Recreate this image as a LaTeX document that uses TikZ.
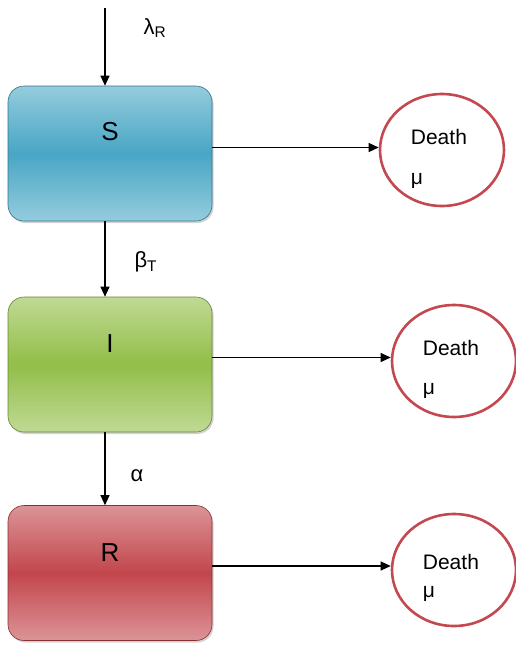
\documentclass[tikz,border=0pt]{standalone}
\usepackage{fontspec}
\setmainfont{Liberation Sans}
\usetikzlibrary{shapes.geometric,arrows.meta,shadows}

\definecolor{sirblue}{RGB}{72,166,197}
\definecolor{sirgreen}{RGB}{146,190,72}
\definecolor{sirred}{RGB}{194,70,76}
\definecolor{deathred}{RGB}{196,72,80}

\begin{document}
\begin{tikzpicture}[
    x=1pt, y=-1pt,
    comp/.style={rounded corners=16pt, minimum width=204pt, minimum height=135pt,
      inner sep=0pt, draw=#1!70!black, line width=0.6pt,
      top color=#1!58!white, bottom color=#1!58!white, middle color=#1,
      drop shadow={shadow xshift=1.5pt, shadow yshift=-2pt, opacity=0.35}},
    letter/.style={font=\fontsize{26}{30}\selectfont},
    rate/.style={font=\fontsize{22}{26}\selectfont, anchor=west},
    death/.style={ellipse, draw=deathred, line width=2.6pt, minimum width=124pt,
      minimum height=112pt},
    deathtxt/.style={anchor=west, align=left, inner sep=0pt,
      font=\fontsize{21}{25}\selectfont},
    flow/.style={-{Triangle[length=10pt,width=9pt]}, line width=1.1pt},
  ]
    \useasboundingbox (0,0) rectangle (516,646);

    % === compartments ===
    \node[comp=sirblue]  (S) at (110,153.5) {};
    \node[comp=sirgreen] (I) at (110,364.5) {};
    \node[comp=sirred]   (R) at (110,573)   {};
    \node[letter] (Slbl) at ([yshift=22pt]S.center) {S};
    \node[letter] (Ilbl) at ([yshift=21pt]I.center) {I};
    \node[letter] (Rlbl) at ([yshift=20pt]R.center) {R};

    % === death outflows ===
    \node[death] (d1) at (442,150) {};
    \node[death] (d2) at (454,361) {};
    \node[death] (d3) at (454,570) {};
    \node[deathtxt] (d1txt) at ([xshift=32pt,yshift=-9pt]d1.west) {Death\\[15pt]μ};
    \node[deathtxt] (d2txt) at ([xshift=32pt,yshift=-8pt]d2.west) {Death\\[14pt]μ};
    \node[deathtxt] (d3txt) at ([xshift=32pt,yshift=-8pt]d3.west) {Death\\[3pt]μ};

    % --- recruitment into S ---
    \coordinate (src) at (105,8);
    \draw[flow] (src) -- (src |- S.north);
    \node[rate] (lamR) at (140,28) {λ\textsubscript{R}};

    % --- transitions S -> I -> R ---
    \draw[flow] ([xshift=-5pt]S.south) -- ([xshift=-5pt]I.north);
    \node[rate] (betT) at (131,262) {β\textsubscript{T}};
    \draw[flow] ([xshift=-5pt]I.south) -- ([xshift=-5pt]R.north);
    \node[rate] (alph) at (127,476) {α};

    % --- mortality from each class ---
    \draw[flow] ([yshift=6pt]S.east) -- ([yshift=6pt]S.east -| d1.west);
    \draw[flow] ([yshift=7pt]I.east) -- ([yshift=7pt]I.east -| d2.west);
    \draw[flow] ([yshift=7pt]R.east) -- ([yshift=7pt]R.east -| d3.west);
\end{tikzpicture}
\end{document}
